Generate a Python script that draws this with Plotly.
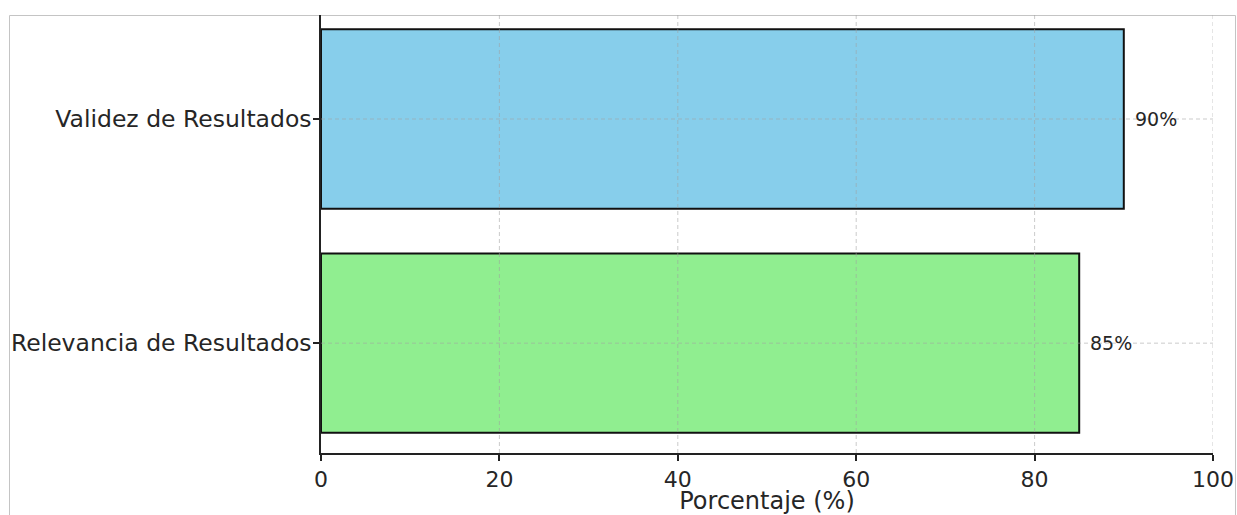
import plotly.graph_objects as go

categories = ["Relevancia de Resultados", "Validez de Resultados"]
values = [85, 90]
colors = ["#90EE90", "#87CEEB"]
labels = ["85%", "90%"]
x_ticks = [0, 20, 40, 60, 80, 100]

W, H = 1237, 515
L, R, T, B = 321, 1237 - 1213, 15, 515 - 453

fig = go.Figure()
fig.add_trace(go.Bar(
    y=categories, x=values, orientation="h",
    marker=dict(color=colors, line=dict(color="#111111", width=2)),
    width=0.8, showlegend=False,
))

for c, v, t in zip(categories, values, labels):
    fig.add_annotation(x=v + 1, y=c, text=t, showarrow=False, xanchor="left",
                       yanchor="middle", font=dict(size=19, color="#262626"))

pw = 1213 - 321
ph = 453 - 15
def px(x):
    return (x - 321) / pw
def py(y):
    return (453 - y) / ph

fig.add_shape(type="rect", xref="paper", yref="paper",
              x0=px(9.5), x1=px(1235.5), y0=py(520), y1=py(15.5),
              line=dict(color="#c4c4c4", width=1), fillcolor="rgba(0,0,0,0)", layer="below")

grid = "rgba(160,160,160,0.55)"
# grid lines drawn above the bars, as in the reference
for xv in x_ticks[1:]:
    fig.add_shape(type="line", xref="x", yref="paper", x0=xv, x1=xv, y0=0, y1=1,
                  line=dict(color=grid, width=1, dash="4px,3px"), layer="above")
for c in categories:
    fig.add_shape(type="line", xref="paper", yref="y", x0=0, x1=1, y0=c, y1=c,
                  line=dict(color=grid, width=1, dash="4px,3px"), layer="above")

fig.update_layout(
    width=W, height=H,
    margin=dict(l=L, r=R, t=T, b=B, pad=0),
    paper_bgcolor="white", plot_bgcolor="white",
    font=dict(family="DejaVu Sans", color="#262626"),
    bargap=0.2,
    xaxis=dict(
        range=[0, 100], tickvals=x_ticks, ticks="outside", ticklen=6, tickwidth=1.5,
        tickcolor="#222222", showline=True, linecolor="#222222", linewidth=1.5,
        showgrid=False, automargin=False,
        tickfont=dict(size=22, color="#262626"), zeroline=False,
        title=dict(text="Porcentaje (%)", font=dict(size=24, color="#262626"), standoff=9),
        layer="above traces",
    ),
    yaxis=dict(
        type="category", range=[-0.49, 1.464], ticks="outside", ticklen=6, tickwidth=1.5,
        tickcolor="#222222", showline=True, linecolor="#222222", linewidth=1.5,
        showgrid=False, automargin=False, ticklabelstandoff=-3,
        tickfont=dict(size=23.5, color="#262626"), zeroline=False,
        layer="above traces",
    ),
)

fig.write_html("out.html")
